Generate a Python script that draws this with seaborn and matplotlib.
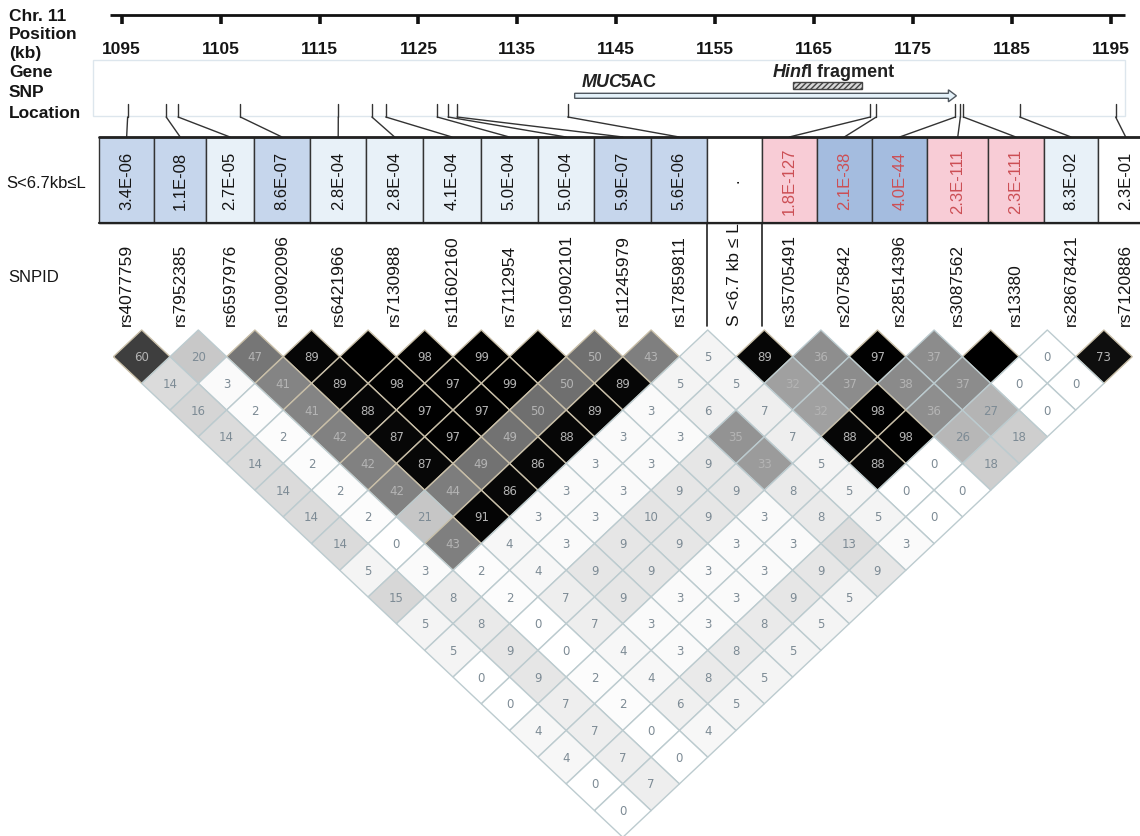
import numpy as np
import pandas as pd
import matplotlib
matplotlib.use("Agg")
import matplotlib.pyplot as plt
import seaborn as sns
from matplotlib.colors import LinearSegmentedColormap
from matplotlib.markers import MarkerStyle
from matplotlib.path import Path
from matplotlib.patches import Rectangle, FancyArrow

# ---------------------------------------------------------------- data
axis_ticks_kb = [1095, 1105, 1115, 1125, 1135, 1145, 1155, 1165, 1175, 1185, 1195]

snp_ids = ["rs4077759", "rs7952385", "rs6597976", "rs10902096", "rs6421966",
           "rs7130988", "rs11602160", "rs7112954", "rs10902101", "rs11245979",
           "rs17859811", "rs35705491", "rs2075842", "rs28514396", "rs3087562",
           "rs13380", "rs28678421", "rs7120886"]
snp_pos_kb = [1095.6, 1099.5, 1100.7, 1107.0, 1116.9, 1120.3, 1121.7, 1126.9,
              1128.0, 1128.9, 1140.1, 1170.7, 1171.3, 1179.3, 1179.8, 1180.1,
              1185.8, 1195.5]

divider_label = "S <6.7 kb \u2264 L"
divider_index = 11

# association p-values per column (the divider column carries ".")
assoc_p = ["3.4E-06", "1.1E-08", "2.7E-05", "8.6E-07", "2.8E-04", "2.8E-04",
           "4.1E-04", "5.0E-04", "5.0E-04", "5.9E-07", "5.6E-06", ".",
           "1.8E-127", "2.1E-38", "4.0E-44", "2.3E-111", "2.3E-111",
           "8.3E-02", "2.3E-01"]
assoc_class = ["mid", "mid", "pale", "mid", "pale", "pale", "pale", "pale",
               "pale", "mid", "mid", "none", "pink", "dark", "dark", "pink",
               "pink", "pale", "none"]
assoc_strong = [False] * 12 + [True] * 5 + [False] * 2

gene_name = ("MUC", "5AC")
gene_span_kb = (1140.8, 1179.4)
fragment_name = ("Hinf", "I fragment")
fragment_span_kb = (1162.9, 1169.9)

# pairwise LD (x100), one list per marker distance (1 = neighbours)
ld_rows = [
    [60, 20, 47, 89, 100, 98, 99, 100, 50, 43, 5, 89, 36, 97, 37, 100, 0, 73],
    [14, 3, 41, 89, 98, 97, 99, 50, 89, 5, 5, 32, 37, 38, 37, 0, 0],
    [16, 2, 41, 88, 97, 97, 50, 89, 3, 6, 7, 32, 98, 36, 27, 0],
    [14, 2, 42, 87, 97, 49, 88, 3, 3, 35, 7, 88, 98, 26, 18],
    [14, 2, 42, 87, 49, 86, 3, 3, 9, 33, 5, 88, 0, 18],
    [14, 2, 42, 44, 86, 3, 3, 9, 9, 8, 5, 0, 0],
    [14, 2, 21, 91, 3, 3, 10, 9, 3, 8, 5, 0],
    [14, 0, 43, 4, 3, 9, 9, 3, 3, 13, 3],
    [5, 3, 2, 4, 9, 9, 3, 3, 9, 9],
    [15, 8, 2, 7, 9, 3, 3, 9, 5],
    [5, 8, 0, 7, 3, 3, 8, 5],
    [5, 9, 0, 4, 3, 8, 5],
    [0, 9, 2, 4, 8, 5],
    [0, 7, 2, 6, 5],
    [4, 7, 0, 4],
    [4, 7, 0],
    [0, 7],
    [0],
]

# grey ramp for the LD shading
shade_nodes = [0, 3, 9, 14, 20, 27, 36, 50, 60, 73, 100]
shade_grey = [255, 250, 230, 218, 200, 180, 142, 112, 62, 14, 0]

# ---------------------------------------------------------------- layout (pixels)
W, H = 1140, 837
kb_x0, kb_ref, px_per_kb = 121.7, 1095, 9.89
axis_y = 15.7
panel = (93, 60.7, 1125, 117.3)
header_top, header_bot = 138, 224
header_edges = [99, 154.3, 206.1, 253.8, 310.1, 366.3, 422.9, 481, 537.6,
                594.4, 651.4, 706.9, 761.7, 816.8, 871.9, 927.4, 988.1,
                1043.6, 1098.4, 1153]
label_base = 326
ld_x0, ld_dx = 113.4, 56.6       # first marker column, column spacing
ld_y0, ld_dy = 357.7, 26.7       # centre of first diamond row, row spacing

box_fill = {"mid": "#c6d6ec", "pale": "#e8f1f8", "dark": "#a4bcdf",
            "pink": "#f8ccd6", "none": "#ffffff"}
strong_text = "#cc4f55"


def kb_to_x(kb):
    return kb_x0 + px_per_kb * (np.asarray(kb) - kb_ref)


sns.set_theme(style="white")
plt.rcParams["font.family"] = ["Liberation Sans", "DejaVu Sans"]
plt.rcParams["text.color"] = "#151515"

fig = plt.figure(figsize=(W / 100, H / 100), dpi=100)
ax = fig.add_axes([0, 0, 1, 1])

FS = 12.5

# ---------------------------------------------------------------- LD triangle
cells = [(i, i + d, v) for d, row in enumerate(ld_rows, start=1)
         for i, v in enumerate(row)]
ld = pd.DataFrame(cells, columns=["i", "j", "ld"])
ld["x"] = ld_x0 + ld_dx * (ld["i"] + ld["j"]) / 2
ld["y"] = ld_y0 + ld_dy * (ld["j"] - ld["i"] - 1)

ramp = LinearSegmentedColormap.from_list(
    "ld_grey",
    [(n / 100, (g / 255, g / 255, g / 255)) for n, g in zip(shade_nodes, shade_grey)])

# diamond: full width = one column step, full height = two row steps
half_h = ld_dy / ld_dx
diamond = MarkerStyle(Path([(-0.5, 0), (0, half_h), (0.5, 0),
                            (0, -half_h), (-0.5, 0)]))
size_pt = ld_dx * 72 / fig.dpi
edge_cols = ["#c9bfa8" if v >= 40 else "#bccbcf" for v in ld["ld"]]

sns.scatterplot(data=ld, x="x", y="y", hue="ld", palette=ramp,
                hue_norm=(0, 100), marker=diamond, s=size_pt ** 2,
                edgecolor=edge_cols, linewidth=1.0, legend=False, ax=ax,
                zorder=5)
ax.set_xlim(0, W)
ax.set_ylim(H, 0)
ax.axis("off")

for _, r in ld.iterrows():
    if r["ld"] >= 100:
        continue
    ax.text(r["x"], r["y"], str(int(r["ld"])), fontsize=8.5,
            family="DejaVu Sans", ha="center", va="center", zorder=6,
            color="#b4b4b4" if r["ld"] >= 30 else "#7d8b95")

# ---------------------------------------------------------------- row labels
for y, txt in [(16.7, "Chr. 11"), (34.5, "Position"), (53.5, "(kb)"),
               (72, "Gene"), (92, "SNP"), (113, "Location")]:
    ax.text(9, y, txt, fontsize=FS, fontweight="bold", va="center", ha="left")
ax.text(6, 183, "S<6.7kb\u2264L", fontsize=12, va="center", ha="left")
ax.text(8, 277, "SNPID", fontsize=12, va="center", ha="left")

# ---------------------------------------------------------------- position axis
tick_x = kb_to_x(axis_ticks_kb)
ax.plot([110, 1125], [axis_y, axis_y], color="#111", lw=2, solid_capstyle="butt")
for kb, x in zip(axis_ticks_kb, tick_x):
    ax.plot([x, x], [axis_y, 25], color="#111", lw=2.6, solid_capstyle="butt")
    ax.text(x, 49.5, str(kb), fontsize=FS, fontweight="bold", ha="center",
            va="center")

# ---------------------------------------------------------------- gene panel
ax.add_patch(Rectangle((panel[0], panel[1]), panel[2] - panel[0],
                       panel[3] - panel[1], fc="white", ec="#dde6ed", lw=1))
g0, g1 = kb_to_x(gene_span_kb)
ax.add_patch(FancyArrow(g0, 96.8, g1 - g0, 0, width=5, head_width=12,
                        head_length=8, length_includes_head=True,
                        fc="#e4f1f9", ec="#505860", lw=1))
t_gene = ax.text(582, 82, gene_name[0], fontsize=13, fontweight="bold",
                 fontstyle="italic", ha="left", va="center", color="#222")
ax.annotate(gene_name[1], xy=(1, 0.5), xycoords=t_gene, xytext=(-1.5, 0),
            textcoords="offset points", fontsize=13, fontweight="bold",
            ha="left", va="center", color="#222")

f0, f1 = kb_to_x(fragment_span_kb)
ax.add_patch(Rectangle((f0, 82.5), f1 - f0, 7, fc="#d8d8d8", ec="#444",
                       lw=1, hatch="//////"))
t_frag = ax.text(773, 72.5, fragment_name[0], fontsize=13, fontweight="bold",
                 fontstyle="italic", ha="left", va="center", color="#222")
ax.annotate(fragment_name[1], xy=(1, 0.5), xycoords=t_frag, xytext=(-1, 0),
            textcoords="offset points", fontsize=13, fontweight="bold",
            ha="left", va="center", color="#222")

# ---------------------------------------------------------------- SNP connectors
edges = np.array(header_edges)
centers = (edges[:-1] + edges[1:]) / 2
snp_cols = [k for k in range(len(assoc_p)) if k != divider_index]
for kb, col in zip(snp_pos_kb, snp_cols):
    x = float(kb_to_x(kb))
    ax.plot([x, x], [105, 118], color="#333", lw=1)
    ax.plot([x, centers[col]], [118, header_top], color="#333", lw=1)

# ---------------------------------------------------------------- association boxes
for k, (p, cls, strong) in enumerate(zip(assoc_p, assoc_class, assoc_strong)):
    x0, x1 = edges[k], edges[k + 1]
    ax.add_patch(Rectangle((x0, header_top), x1 - x0, header_bot - header_top,
                           fc=box_fill[cls], ec="#333", lw=1, zorder=2))
    ax.text(centers[k], (header_top + header_bot) / 2, p, rotation=90,
            fontsize=12, ha="center", va="center", zorder=3,
            color=strong_text if strong else "#151515")
ax.plot([edges[0], W], [header_top, header_top], color="#222", lw=2, zorder=4)
ax.plot([edges[0], W], [header_bot, header_bot], color="#222", lw=1.6, zorder=4)
for xe in (edges[divider_index], edges[divider_index + 1]):
    ax.plot([xe, xe], [header_bot, 327], color="#222", lw=1.2)

# ---------------------------------------------------------------- SNP ids
col_labels = snp_ids[:divider_index] + [divider_label] + snp_ids[divider_index:]
for k, lab in enumerate(col_labels):
    ax.text(centers[k], label_base, lab, rotation=90, fontsize=12.5,
            ha="center", va="bottom", color="#151515")

ax.set_xlim(0, W)
ax.set_ylim(H, 0)
fig.savefig("out.png", dpi=100, facecolor="white")
